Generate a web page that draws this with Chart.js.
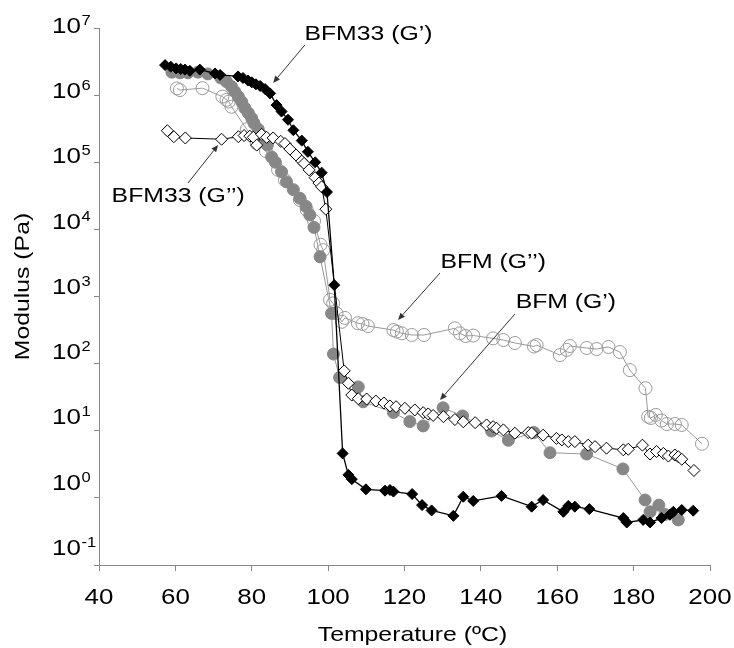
<!DOCTYPE html>
<html>
<head>
<meta charset="utf-8">
<script src="https://cdn.jsdelivr.net/npm/chart.js@4.4.1/dist/chart.umd.min.js"></script>
<style>
  html, body { margin: 0; padding: 0; background: #fff; }
  #wrap { width: 734px; height: 648px; }
</style>
</head>
<body>
<div id="wrap"><canvas id="myChart" width="734" height="648"></canvas></div>
<script>
const ctx = document.getElementById('myChart');

const FONT = '"Liberation Sans", Arial, sans-serif';
const SX = 1.18; // text in the reference is a little wider than Arial

// axes
const xTicks = [40, 60, 80, 100, 120, 140, 160, 180, 200];
const yExponents = [7, 6, 5, 4, 3, 2, 1, 0, -1];

// BFM33 (G')
const bfm33GpTemp = [57.3, 58.8, 60.2, 61.4, 62.5, 63.8, 66.4, 70.4, 71.7, 76.4, 77.7, 79.0, 80.0, 81.1, 82.2, 83.5, 84.8, 86.5, 87.8, 89.5, 90.9, 93.1, 94.7, 96.6, 98.3, 99.7, 101.6, 103.8, 105.3, 106.2, 109.9, 114.9, 116.2, 117.1, 122.0, 124.6, 127.1, 132.8, 135.4, 138.0, 145.4, 153.3, 156.3, 161.6, 162.9, 164.6, 168.4, 177.3, 178.2, 182.5, 184.3, 187.3, 189.5, 190.4, 192.6, 195.6];
const bfm33GpMod = [2.8e6, 2.65e6, 2.5e6, 2.45e6, 2.4e6, 2.3e6, 2.4e6, 2.1e6, 2.0e6, 1.9e6, 1.8e6, 1.65e6, 1.55e6, 1.45e6, 1.37e6, 1.23e6, 1.06e6, 7.1e5, 5.7e5, 4.3e5, 3.0e5, 2.1e5, 1.43e5, 1.0e5, 7.0e4, 3.6e4, 1.48e3, 4.6, 2.2, 1.9, 1.34, 1.28, 1.31, 1.24, 1.14, 0.78, 0.65, 0.54, 1.04, 0.90, 1.07, 0.74, 0.93, 0.62, 0.76, 0.74, 0.68, 0.50, 0.43, 0.47, 0.43, 0.50, 0.56, 0.62, 0.66, 0.645];

// BFM33 (G'')
const bfm33GppTemp = [57.9, 59.6, 62.6, 72.1, 76.5, 78.0, 79.5, 80.4, 81.3, 82.6, 83.9, 85.6, 87.6, 88.7, 90.0, 91.6, 93.1, 93.7, 95.0, 96.6, 97.6, 98.3, 99.4, 104.2, 105.3, 106.2, 107.9, 110.1, 112.5, 114.6, 116.2, 117.8, 120.1, 122.7, 124.9, 126.2, 127.5, 130.2, 133.2, 135.4, 138.5, 141.5, 143.2, 144.1, 145.9, 148.9, 152.4, 153.3, 156.3, 159.8, 161.2, 162.9, 164.6, 168.1, 169.9, 172.9, 177.3, 178.6, 182.3, 184.3, 186.0, 187.8, 189.1, 190.8, 191.7, 192.6, 195.8];
const bfm33GppMod = [2.95e5, 2.4e5, 2.3e5, 2.2e5, 2.4e5, 2.5e5, 2.45e5, 2.35e5, 1.8e5, 2.6e5, 2.35e5, 2.3e5, 2.05e5, 1.9e5, 1.57e5, 1.28e5, 1.04e5, 9.6e4, 7.7e4, 5.9e4, 4.9e4, 4.3e4, 2.0e4, 78, 51, 34, 30, 29.7, 27.7, 25.9, 23.4, 22.8, 21.6, 20.4, 18.6, 17.8, 16.9, 16.2, 14.7, 13.6, 13.2, 12.2, 11.5, 10.9, 10.3, 9.2, 9.4, 9.2, 8.6, 7.7, 7.3, 6.9, 6.9, 6.1, 5.8, 5.5, 5.2, 5.3, 6.1, 4.5, 4.9, 4.6, 4.2, 4.35, 4.1, 3.76, 2.56];

// BFM (G')
const bfmGpTemp = [59.1, 61.2, 63.3, 65.9, 68.5, 71.9, 73.4, 74.7, 75.6, 76.5, 77.4, 78.2, 79.1, 80.0, 80.6, 81.7, 83.0, 84.1, 85.2, 86.2, 87.8, 89.1, 90.9, 92.6, 94.2, 95.2, 96.3, 97.9, 100.9, 101.4, 103.0, 107.9, 109.2, 117.1, 121.4, 124.9, 130.1, 135.2, 142.8, 147.2, 153.9, 158.1, 167.7, 177.2, 183.0, 184.3, 186.6, 188.2, 191.7];
const bfmGpMod = [2.2e6, 2.15e6, 2.15e6, 2.2e6, 2.07e6, 1.8e6, 1.58e6, 1.34e6, 1.12e6, 9.5e5, 7.9e5, 6.4e5, 5.4e5, 4.5e5, 3.8e5, 3.1e5, 2.4e5, 1.8e5, 1.2e5, 1.0e5, 7.2e4, 5.1e4, 3.9e4, 2.9e4, 2.2e4, 1.64e4, 1.07e4, 3.9e3, 560, 139, 62, 45, 27, 18.7, 13.7, 11.8, 22, 16.6, 9.9, 7.2, 9.4, 4.7, 4.5, 2.7, 0.93, 0.62, 0.78, 0.565, 0.47];

// BFM (G'')
const bfmGppTemp = [60.4, 61.2, 67.1, 72.3, 73.4, 74.0, 74.7, 78.7, 81.3, 83.7, 86.9, 88.7, 92.6, 94.4, 96.3, 98.0, 98.7, 100.5, 101.3, 102.2, 103.6, 104.4, 107.8, 109.0, 110.4, 117.1, 118.0, 119.3, 121.9, 125.1, 133.2, 134.5, 136.0, 138.0, 143.2, 145.9, 148.9, 153.9, 154.6, 160.7, 162.5, 163.3, 167.7, 170.3, 173.4, 176.4, 179.0, 183.1, 183.8, 184.5, 185.8, 187.3, 188.7, 190.8, 192.6, 197.9];
const bfmGppMod = [1.26e6, 1.19e6, 1.27e6, 9.5e5, 8.5e5, 8.0e5, 6.7e5, 3.1e5, 1.92e5, 1.47e5, 7.7e4, 5.4e4, 2.74e4, 1.95e4, 1.33e4, 5.9e3, 4.9e3, 890, 790, 560, 420, 480, 400, 390, 363, 316, 300, 283, 267, 267, 336, 283, 258, 262, 238, 225, 203, 180, 189, 134, 160, 183, 171, 165, 177, 149, 80, 43, 16.2, 15.5, 17.2, 14.2, 12.6, 12.6, 12.2, 6.4];

// callout labels, in data units (temperature, modulus)
const noteTexts = ['BFM33 (G\u2019)', 'BFM33 (G\u2019\u2019)', 'BFM (G\u2019\u2019)', 'BFM (G\u2019)'];
const noteAt = [[93.8, 6.6e6], [43.3, 2.56e4], [129.4, 2.66e3], [149.1, 675]];
const arrowFrom = [[93.9, 5.58e6], [63.3, 4.9e4], [129.3, 2.24e3], [148.9, 548]];
const arrowTo = [[85.6, 1.52e6], [71.2, 1.81e5], [118.3, 447], [129.3, 28.7]];

function toPoints(xs, ys) {
  return xs.map((x, i) => ({ x: x, y: ys[i] }));
}

// draws text stretched horizontally, returns drawn width
function drawText(c, txt, x, y, size, align) {
  c.save();
  c.font = size + 'px ' + FONT;
  c.textAlign = align;
  c.textBaseline = 'alphabetic';
  c.translate(x, y);
  c.scale(SX, 1);
  c.fillText(txt, 0, 0);
  const w = c.measureText(txt).width * SX;
  c.restore();
  return w;
}

function drawArrow(c, x1, y1, x2, y2) {
  const a = Math.atan2(y2 - y1, x2 - x1);
  const len = 7, half = 3;
  const bx = x2 - len * Math.cos(a), by = y2 - len * Math.sin(a);
  c.beginPath();
  c.moveTo(x1, y1);
  c.lineTo(bx, by);
  c.stroke();
  c.beginPath();
  c.moveTo(x2, y2);
  c.lineTo(bx + half * Math.sin(a), by - half * Math.cos(a));
  c.lineTo(bx - half * Math.sin(a), by + half * Math.cos(a));
  c.closePath();
  c.fill();
}

const textPlugin = {
  id: 'textPlugin',
  afterDraw(chart) {
    const c = chart.ctx;
    const xs = chart.scales.x, ys = chart.scales.y, area = chart.chartArea;
    c.save();
    c.fillStyle = '#000';

    xTicks.forEach(v => {
      drawText(c, String(v), xs.getPixelForValue(v), area.bottom + 39, 22, 'center');
    });

    // 10^n labels, the reference drifts a little upward toward the bottom
    yExponents.forEach(e => {
      const base = ys.getPixelForValue(Math.pow(10, e)) + 5 - (7 - e) * 1.9;
      const left = area.left - 47;
      const w = drawText(c, '10', left, base, 22, 'left');
      drawText(c, String(e), left + w + 0.5, base - 8, 14, 'left');
    });

    drawText(c, 'Temperature (\u00baC)', (area.left + area.right) / 2 + 8, area.bottom + 76, 21, 'center');
    c.save();
    c.translate(area.left - 70, (area.top + area.bottom) / 2 - 10);
    c.rotate(-Math.PI / 2);
    drawText(c, 'Modulus (Pa)', 0, 0, 21, 'center');
    c.restore();

    c.strokeStyle = '#333';
    c.fillStyle = '#333';
    c.lineWidth = 1;
    noteTexts.forEach((t, i) => {
      drawArrow(c,
        xs.getPixelForValue(arrowFrom[i][0]), ys.getPixelForValue(arrowFrom[i][1]),
        xs.getPixelForValue(arrowTo[i][0]), ys.getPixelForValue(arrowTo[i][1]));
    });
    c.fillStyle = '#000';
    noteTexts.forEach((t, i) => {
      drawText(c, t, xs.getPixelForValue(noteAt[i][0]), ys.getPixelForValue(noteAt[i][1]), 21, 'left');
    });
    c.restore();
  }
};

new Chart(ctx, {
  type: 'line',
  data: {
    datasets: [
      {
        label: 'BFM33 (G\u2019)',
        data: toPoints(bfm33GpTemp, bfm33GpMod),
        borderColor: '#000',
        borderWidth: 1.3,
        pointStyle: 'rectRot',
        pointRadius: 5.5,
        pointBackgroundColor: '#000',
        pointBorderColor: '#000',
        pointBorderWidth: 1
      },
      {
        label: 'BFM33 (G\u2019\u2019)',
        data: toPoints(bfm33GppTemp, bfm33GppMod),
        borderColor: '#000',
        borderWidth: 1,
        pointStyle: 'rectRot',
        pointRadius: 6,
        pointBackgroundColor: '#fff',
        pointBorderColor: '#000',
        pointBorderWidth: 1
      },
      {
        label: 'BFM (G\u2019)',
        data: toPoints(bfmGpTemp, bfmGpMod),
        borderColor: '#999',
        borderWidth: 1,
        pointStyle: 'circle',
        pointRadius: 6,
        pointBackgroundColor: '#878787',
        pointBorderColor: '#878787',
        pointBorderWidth: 1
      },
      {
        label: 'BFM (G\u2019\u2019)',
        data: toPoints(bfmGppTemp, bfmGppMod),
        borderColor: '#999',
        borderWidth: 1,
        pointStyle: 'circle',
        pointRadius: 6.5,
        pointBackgroundColor: 'rgba(255,255,255,0)',
        pointBorderColor: '#999',
        pointBorderWidth: 1
      }
    ]
  },
  options: {
    responsive: false,
    animation: false,
    events: [],
    layout: { padding: { top: 28, right: 24, left: 0, bottom: 0 } },
    elements: { line: { tension: 0, fill: false } },
    plugins: {
      legend: { display: false },
      tooltip: { enabled: false }
    },
    scales: {
      x: {
        type: 'linear',
        min: 40,
        max: 200,
        ticks: { display: false, stepSize: 20 },
        grid: { drawOnChartArea: false, drawTicks: true, tickLength: 6, color: '#888' },
        border: { display: true, color: '#888', width: 1 },
        afterFit: function(scale) { scale.height = 83; }
      },
      y: {
        type: 'logarithmic',
        min: 0.1,
        max: 1e7,
        ticks: { display: false },
        afterBuildTicks: function(scale) {
          scale.ticks = yExponents.map(e => ({ value: Math.pow(10, e) }));
        },
        grid: { drawOnChartArea: false, drawTicks: true, tickLength: 5, color: '#888' },
        border: { display: true, color: '#888', width: 1 },
        afterFit: function(scale) { scale.width = 99; }
      }
    }
  },
  plugins: [textPlugin]
});
</script>
</body>
</html>
